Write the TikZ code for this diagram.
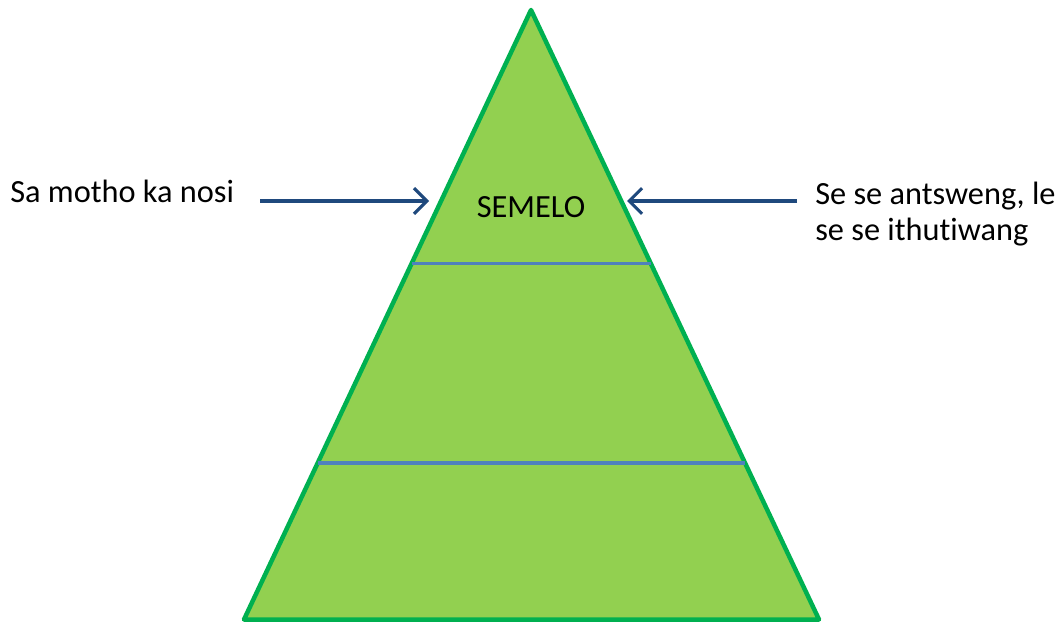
\documentclass[tikz,border=0pt]{standalone}
\usepackage{xcolor}
\usepackage{fontspec}
\setmainfont{Carlito}[Ligatures=NoCommon]
\usetikzlibrary{arrows.meta, calc}

\definecolor{pyrfill}{HTML}{92D050}
\definecolor{pyredge}{HTML}{00B050}
\definecolor{layerblue}{HTML}{4F81BD}
\definecolor{arrowblue}{HTML}{1F497D}

\begin{document}
\begin{tikzpicture}[
  x=0.025cm, y=-0.025cm,
  txt/.style={font=\fontsize{23}{25}\selectfont, inner sep=0pt, align=left},
  pyramid/.style={draw=pyredge, fill=pyrfill, line width=3.2pt, line join=round},
  layer/.style={draw=layerblue, line width=2.6pt},
  pointer/.style={draw=arrowblue, line width=2.2pt, -{Straight Barb[length=3.2mm, width=6.4mm]}}
]
\useasboundingbox (0,0) rectangle (1058,623);

% ---------- Pyramid ----------
\coordinate (top) at (531,10);
\coordinate (bl) at (244,619.5);
\coordinate (br) at (819,619.5);
\draw[pyramid] (top) -- (br) -- (bl) -- cycle;

% ---------- Layers ----------
\coordinate (l1) at ($(top)!0.416!(bl)$);
\coordinate (r1) at ($(top)!0.416!(br)$);
\coordinate (l2) at ($(top)!0.743!(bl)$);
\coordinate (r2) at ($(top)!0.743!(br)$);
\draw[layer] (l1) -- (r1);
\draw[layer] (l2) -- (r2);

% ---------- Labels ----------
\node[txt, anchor=base] (semelo) at (531,217) {SEMELO};
\node[txt, anchor=base west] (left) at (10,203) {Sa motho ka nosi};
\node[txt, anchor=base west] (right) at (815,240) {Se se antsweng, le\\se se ithutiwang};

% ---------- Arrows ----------
\coordinate (lstart) at (260,201);
\coordinate (lend) at (429,201);
\coordinate (rstart) at (797,201);
\coordinate (rend) at (627,201);
\draw[pointer] (lstart) -- (lend);
\draw[pointer] (rstart) -- (rend);

\end{tikzpicture}
\end{document}
